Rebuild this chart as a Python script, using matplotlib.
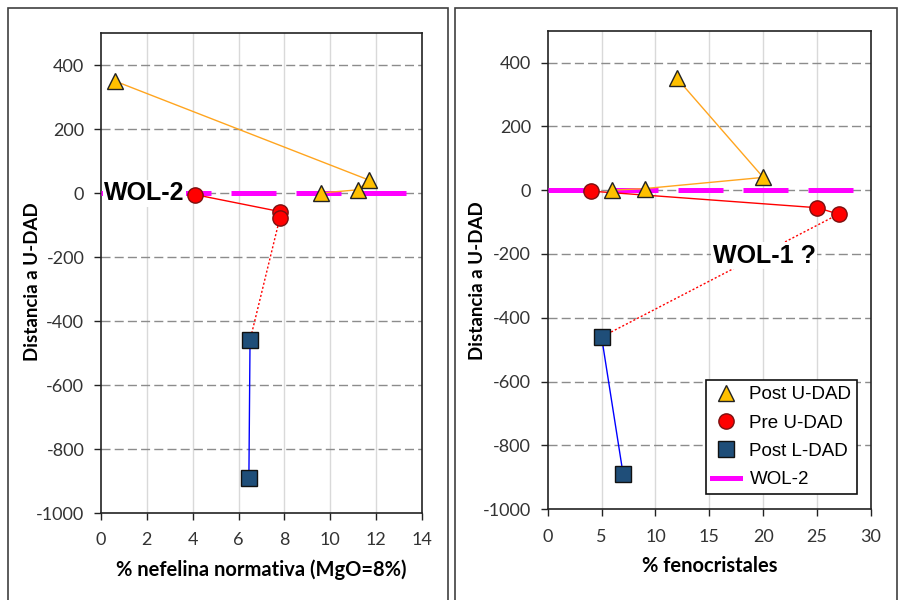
import numpy as np
import matplotlib
matplotlib.use('Agg')
import matplotlib.pyplot as plt
from matplotlib.patches import Rectangle
from matplotlib.lines import Line2D

# datos leidos del grafico
# panel izquierdo: % nefelina normativa
neph_post_u = [0.6, 11.7, 11.2, 9.6]
dist_post_u_a = [350, 40, 10, 0]
neph_pre_u = [4.1, 7.8, 7.8]
dist_pre_u_a = [-5, -58, -78]
neph_post_l = [6.5, 6.45]
dist_post_l_a = [-460, -890]
neph_link = [7.8, 6.5]
dist_link_a = [-78, -460]
wol2_a_x = [0, 14]

# panel derecho: % fenocristales
feno_post_u = [12, 20, 9, 6]
dist_post_u_b = [350, 40, 5, 0]
feno_pre_u = [4, 25, 27]
dist_pre_u_b = [-3, -55, -75]
feno_post_l = [5, 7]
dist_post_l_b = [-460, -890]
feno_link = [27, 5]
dist_link_b = [-75, -460]
wol2_b_x = [0, 30]
wol2_y = [0, 0]

yticks = [-1000, -800, -600, -400, -200, 0, 200, 400]
xticks_a = [0, 2, 4, 6, 8, 10, 12, 14]
xticks_b = [0, 5, 10, 15, 20, 25, 30]

plt.rcParams['font.family'] = ['Lato', 'DejaVu Sans']
plt.rcParams['axes.unicode_minus'] = False
narrow = ['Liberation Sans', 'DejaVu Sans']

tri_kw = dict(marker='^', ms=12, mfc='#FFC000', mec='#222222', mew=1, ls='none', zorder=6)
cir_kw = dict(marker='o', ms=11, mfc='#FF0000', mec='#7a1010', mew=1, ls='none', zorder=6)
sq_kw = dict(marker='s', ms=11.5, mfc='#1F4E79', mec='#111111', mew=1, ls='none', zorder=6)

fig = plt.figure(figsize=(9.03, 6.0), dpi=100)

# marcos exteriores
for x0, w in [(8, 440), (455, 442)]:
    fig.patches.append(Rectangle((x0 / 903, -0.05), w / 903, 1.05 - 8 / 600,
                                 transform=fig.transFigure, fill=False,
                                 edgecolor='#404040', lw=1.2))

ax1 = fig.add_axes([101 / 903, 87 / 600, 321 / 903, 480 / 600])
ax2 = fig.add_axes([547.7 / 903, 90.7 / 600, 323.3 / 903, 478.7 / 600])


def style(ax, xticks, xmax, xlabel, ylab_xy):
    ax.set_xlim(0, xmax)
    ax.set_ylim(-1000, 500)
    ax.set_xticks(xticks)
    ax.set_yticks(yticks)
    for x in xticks[1:-1]:
        ax.axvline(x, color='#d9d9d9', lw=1.0, zorder=0)
    for y in yticks[1:]:
        ax.axhline(y, color='#8c8c8c', lw=1.0, ls=(0, (6.5, 3)), zorder=1)
    ax.tick_params(direction='out', length=5, width=1, labelsize=13,
                   labelcolor='#333333', colors='#222222')
    ax.tick_params(axis='x', pad=9)
    ax.tick_params(axis='y', pad=7)
    for s in ax.spines.values():
        s.set_color('#222222')
        s.set_linewidth(1.2)
    ax.set_xlabel(xlabel, fontsize=14.5, fontweight='bold', labelpad=8)
    ax.set_ylabel('Distancia a U-DAD', fontsize=13.5, fontweight='bold')
    ax.yaxis.set_label_coords(*ylab_xy)


style(ax1, xticks_a, 14, '% nefelina normativa (MgO=8%)', (-0.187, 0.483))
style(ax2, xticks_b, 30, '% fenocristales', (-0.191, 0.477))

# panel izquierdo
ax1.plot(wol2_a_x, wol2_y, color='#FF00FF', lw=3.6, ls=(0, (9, 4)), zorder=3)
ax1.plot(neph_post_u, dist_post_u_a, color='#FFA51F', lw=1.0, zorder=4)
ax1.plot(neph_pre_u, dist_pre_u_a, color='#FF0000', lw=1.0, zorder=4)
ax1.plot(neph_post_l, dist_post_l_a, color='#0000FF', lw=1.0, zorder=4)
ax1.plot(neph_link, dist_link_a, color='#FF0000', lw=1.0, ls=(0, (1.5, 1.5)), zorder=4)
ax1.plot(neph_post_u, dist_post_u_a, **tri_kw)
ax1.plot(neph_pre_u, dist_pre_u_a, **cir_kw)
ax1.plot(neph_post_l, dist_post_l_a, **sq_kw)
ax1.text(0.15, 0, 'WOL-2', family=narrow, fontsize=18, fontweight='bold',
         ha='left', va='center', zorder=5,
         bbox=dict(facecolor='white', edgecolor='none', pad=1))

# panel derecho
ax2.plot(wol2_b_x, wol2_y, color='#FF00FF', lw=3.6, ls=(0, (9, 4)), zorder=3)
ax2.plot(feno_post_u, dist_post_u_b, color='#FFA51F', lw=1.0, zorder=4)
ax2.plot(feno_pre_u, dist_pre_u_b, color='#FF0000', lw=1.0, zorder=4)
ax2.plot(feno_post_l, dist_post_l_b, color='#0000FF', lw=1.0, zorder=4)
ax2.plot(feno_link, dist_link_b, color='#FF0000', lw=1.0, ls=(0, (1.5, 1.5)), zorder=4)
ax2.plot(feno_post_u, dist_post_u_b, label='Post U-DAD', **tri_kw)
ax2.plot(feno_pre_u, dist_pre_u_b, label='Pre U-DAD', **cir_kw)
ax2.plot(feno_post_l, dist_post_l_b, label='Post L-DAD', **sq_kw)
ax2.text(15.3, -205, 'WOL-1 ?', family=narrow, fontsize=18, fontweight='bold',
         ha='left', va='center', zorder=5,
         bbox=dict(facecolor='white', edgecolor='none', pad=1))

handles, labels = ax2.get_legend_handles_labels()
handles.append(Line2D([], [], color='#FF00FF', lw=3.6))
labels.append('WOL-2')
leg = ax2.legend(handles, labels, loc='lower right', bbox_to_anchor=(0.957, 0.032),
                 prop={'family': narrow, 'size': 13.5}, frameon=True, fancybox=False,
                 edgecolor='#111111', framealpha=1, borderpad=0.3, labelspacing=0.6,
                 handlelength=1.5, handletextpad=0.5, borderaxespad=0)
leg.get_frame().set_linewidth(1.2)
leg.set_zorder(10)

fig.savefig('out.png', dpi=100)
